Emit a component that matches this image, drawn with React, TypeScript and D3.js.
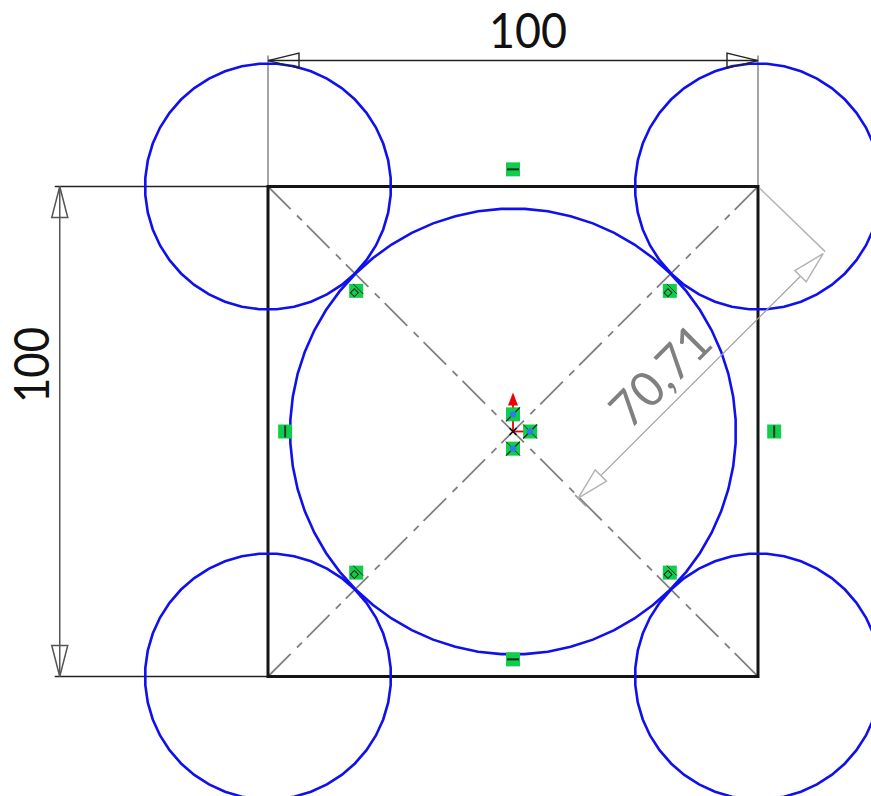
import React from "react";
import * as d3 from "d3";

const WIDTH = 871;
const HEIGHT = 796;
type P = [number, number];

const squareCorners: P[] = [[-50, 50], [50, 50], [50, -50], [-50, -50]];
const cornerCircles: P[] = [[-50, 50], [50, 50], [-50, -50], [50, -50]];
const cornerRadius = 25.1;
const centerRadius = 45.5;
const cornerFacets = 44;
const centerFacets = 60;
const horizontalMarks: P[] = [[0, 53.5], [0, -46.5]];
const verticalMarks: P[] = [[-46.5, 0], [53.3, 0]];
const tangentMarks: P[] = [[-32, 28.7], [32, 28.7], [-32, -28.8], [32, -28.8]];
const pointMarks: P[] = [[0, 3.5], [3.5, 0], [0, -3.5]];
const topDimension: P[] = [[-50, 75.7], [50, 75.7]];
const leftDimension: P[] = [[-92.5, 50], [-92.5, -50]];
const diagonalDimension: P[] = [[63.3, 36.3], [13.3, -13.6]];
const labels = { top: "100", left: "100", diagonal: "70,71" };

const x = d3.scaleLinear().domain([-50, 50]).range([268, 758]);
const y = d3.scaleLinear().domain([-50, 50]).range([676.5, 186.5]);
const r = (v: number) => x(v) - x(0);
const line = d3.line<P>().x((d) => x(d[0])).y((d) => y(d[1]));

const BLUE = "#1010ee";
const GREEN = "#0fce4a";
const FONT = "Lato, 'Open Sans', sans-serif";
const DASH = "32 9 7 7";

function facetedCircle(c: P, radius: number, facets: number) {
  const path = d3
    .lineRadial<number>()
    .angle((d) => (d / facets) * 2 * Math.PI + Math.PI / facets)
    .radius(r(radius))
    .curve(d3.curveLinearClosed);
  return { d: path(d3.range(facets))!, t: `translate(${x(c[0])},${y(c[1])})` };
}

// Open triangular arrow head: tip at [tx, ty], pointing along the unit vector (dx, dy)
function arrow(tx: number, ty: number, dx: number, dy: number, len: number, half: number) {
  const bx = tx - dx * len;
  const by = ty - dy * len;
  return `M${tx},${ty}L${bx - dy * half},${by + dx * half}L${bx + dy * half},${by - dx * half}Z`;
}

function Box({ p, children }: { p: P; children?: React.ReactNode }) {
  return (
    <g transform={`translate(${x(p[0])},${y(p[1])})`}>
      <rect x={-7} y={-7} width={14} height={14} fill={GREEN} />
      {children}
    </g>
  );
}

export default function App() {
  const [a, b] = diagonalDimension;
  const ax = x(a[0]), ay = y(a[1]), bx = x(b[0]), by = y(b[1]);
  const L = Math.hypot(bx - ax, by - ay);
  const ux = (bx - ax) / L, uy = (by - ay) / L;
  const tx0 = x(topDimension[0][0]), tx1 = x(topDimension[1][0]), ty = y(topDimension[0][1]);
  const lx = x(leftDimension[0][0]), ly0 = y(leftDimension[0][1]), ly1 = y(leftDimension[1][1]);
  const center = facetedCircle([0, 0], centerRadius, centerFacets);

  return (
    <svg width={WIDTH} height={HEIGHT} style={{ position: "absolute", left: 0, top: 0, background: "#fff" }}>
      {/* diagonals */}
      <g fill="none" stroke="#808080" strokeWidth={1.8}>
        <path d={line([squareCorners[0], squareCorners[2]])!} strokeDasharray={DASH} />
        <path d={line([squareCorners[3], squareCorners[1]])!} strokeDasharray={DASH} />
      </g>

      {/* extension lines */}
      <g fill="none" stroke="#9a9a9a" strokeWidth={1.8}>
        <line x1={tx0} x2={tx0} y1={ty - 5} y2={y(50)} />
        <line x1={tx1} x2={tx1} y1={ty - 5} y2={y(50)} />
      </g>
      <g fill="none" stroke="#222" strokeWidth={1.3}>
        <line x1={lx - 5} x2={x(-50)} y1={ly0} y2={ly0} />
        <line x1={lx - 5} x2={x(-50)} y1={ly1} y2={ly1} />
      </g>

      {/* square */}
      <path d={line(squareCorners)! + "Z"} fill="none" stroke="#151515" strokeWidth={3} />

      {/* circles */}
      <g fill="none" stroke={BLUE} strokeWidth={2.6}>
        {cornerCircles.map((c, i) => {
          const f = facetedCircle(c, cornerRadius, cornerFacets);
          return <path key={i} d={f.d} transform={f.t} />;
        })}
        <path d={center.d} transform={center.t} />
      </g>

      {/* top dimension */}
      <g fill="none" stroke="#222" strokeWidth={1.4}>
        <line x1={tx0} x2={tx1} y1={ty} y2={ty} />
        <path d={arrow(tx0, ty, -1, 0, 31, 7.5)} />
        <path d={arrow(tx1, ty, 1, 0, 31, 7.5)} />
      </g>
      <text x={528} y={48} textAnchor="middle" fontFamily={FONT} fontSize={49} fill="#111" textLength={78} lengthAdjust="spacingAndGlyphs">{labels.top}</text>

      {/* left dimension */}
      <g fill="none" stroke="#555" strokeWidth={1.5}>
        <line x1={lx} x2={lx} y1={ly0} y2={ly1} />
        <path d={arrow(lx, ly0, 0, -1, 31, 8)} />
        <path d={arrow(lx, ly1, 0, 1, 31, 8)} />
      </g>
      <text transform="translate(49,365) rotate(-90)" textAnchor="middle" fontFamily={FONT} fontSize={49} fill="#111" textLength={76} lengthAdjust="spacingAndGlyphs">{labels.left}</text>

      {/* diagonal dimension */}
      <g fill="none" stroke="#b4b4b4" strokeWidth={1.5}>
        <line x1={x(50) + 2} y1={y(50) + 2} x2={ax + 2} y2={ay - 2} />
        <line x1={bx - 3} y1={by - 3} x2={bx + 8} y2={by + 8} stroke="#999" />
        <line x1={ax} y1={ay} x2={bx} y2={by} stroke="#a0a0a0" strokeWidth={1.2} />
        <path d={arrow(ax, ay, -ux, -uy, 32, 8)} fill="#fff" />
        <path d={arrow(bx, by, ux, uy, 32, 8)} fill="#fff" />
      </g>
      <text transform="translate(664,379) rotate(-45)" textAnchor="middle" dominantBaseline="middle" fontFamily={FONT} fontSize={49} fill="#808080" textLength={120} lengthAdjust="spacingAndGlyphs">{labels.diagonal}</text>

      {/* origin */}
      <g stroke="#e8000b" strokeWidth={1.8}>
        <line x1={x(0)} x2={x(0)} y1={y(0)} y2={y(0) - 32} />
        <line x1={x(0)} x2={x(0) + 12} y1={y(0)} y2={y(0)} />
        <path d={`M${x(0)},${y(0) - 39}l-5,13h10Z`} fill="#f00000" stroke="none" />
      </g>
      <g stroke="#111" strokeWidth={1.6}>
        <line x1={x(0) - 3.5} x2={x(0) + 3.5} y1={y(0) - 3.5} y2={y(0) + 3.5} />
        <line x1={x(0) - 3.5} x2={x(0) + 3.5} y1={y(0) + 3.5} y2={y(0) - 3.5} />
      </g>

      {/* relation marks */}
      {horizontalMarks.map((p, i) => (
        <Box key={i} p={p}><line x1={-6} x2={6} y1={0} y2={0} stroke="#222" strokeWidth={2} /></Box>
      ))}
      {verticalMarks.map((p, i) => (
        <Box key={i} p={p}><line y1={-6} y2={6} x1={0} x2={0} stroke="#333" strokeWidth={2} /></Box>
      ))}
      {tangentMarks.map((p, i) => (
        <Box key={i} p={p}>
          <rect x={-4.6} y={-1} width={5.6} height={5.6} transform="rotate(45 -1.8 1.8)" fill="none" stroke="#222" strokeWidth={1} />
          <line x1={-3} y1={-7} x2={7} y2={3} stroke="#222" strokeWidth={1} />
        </Box>
      ))}
      {pointMarks.map((p, i) => (
        <Box key={i} p={p}>
          <line x1={-7} y1={7} x2={7} y2={-7} stroke="#222" strokeWidth={1.2} />
          <line x1={-7} y1={-7} x2={7} y2={7} stroke="#222" strokeWidth={1} opacity={i === 0 ? 0 : 1} />
          <circle r={3.2} fill="#2f7de8" />
        </Box>
      ))}
    </svg>
  );
}
